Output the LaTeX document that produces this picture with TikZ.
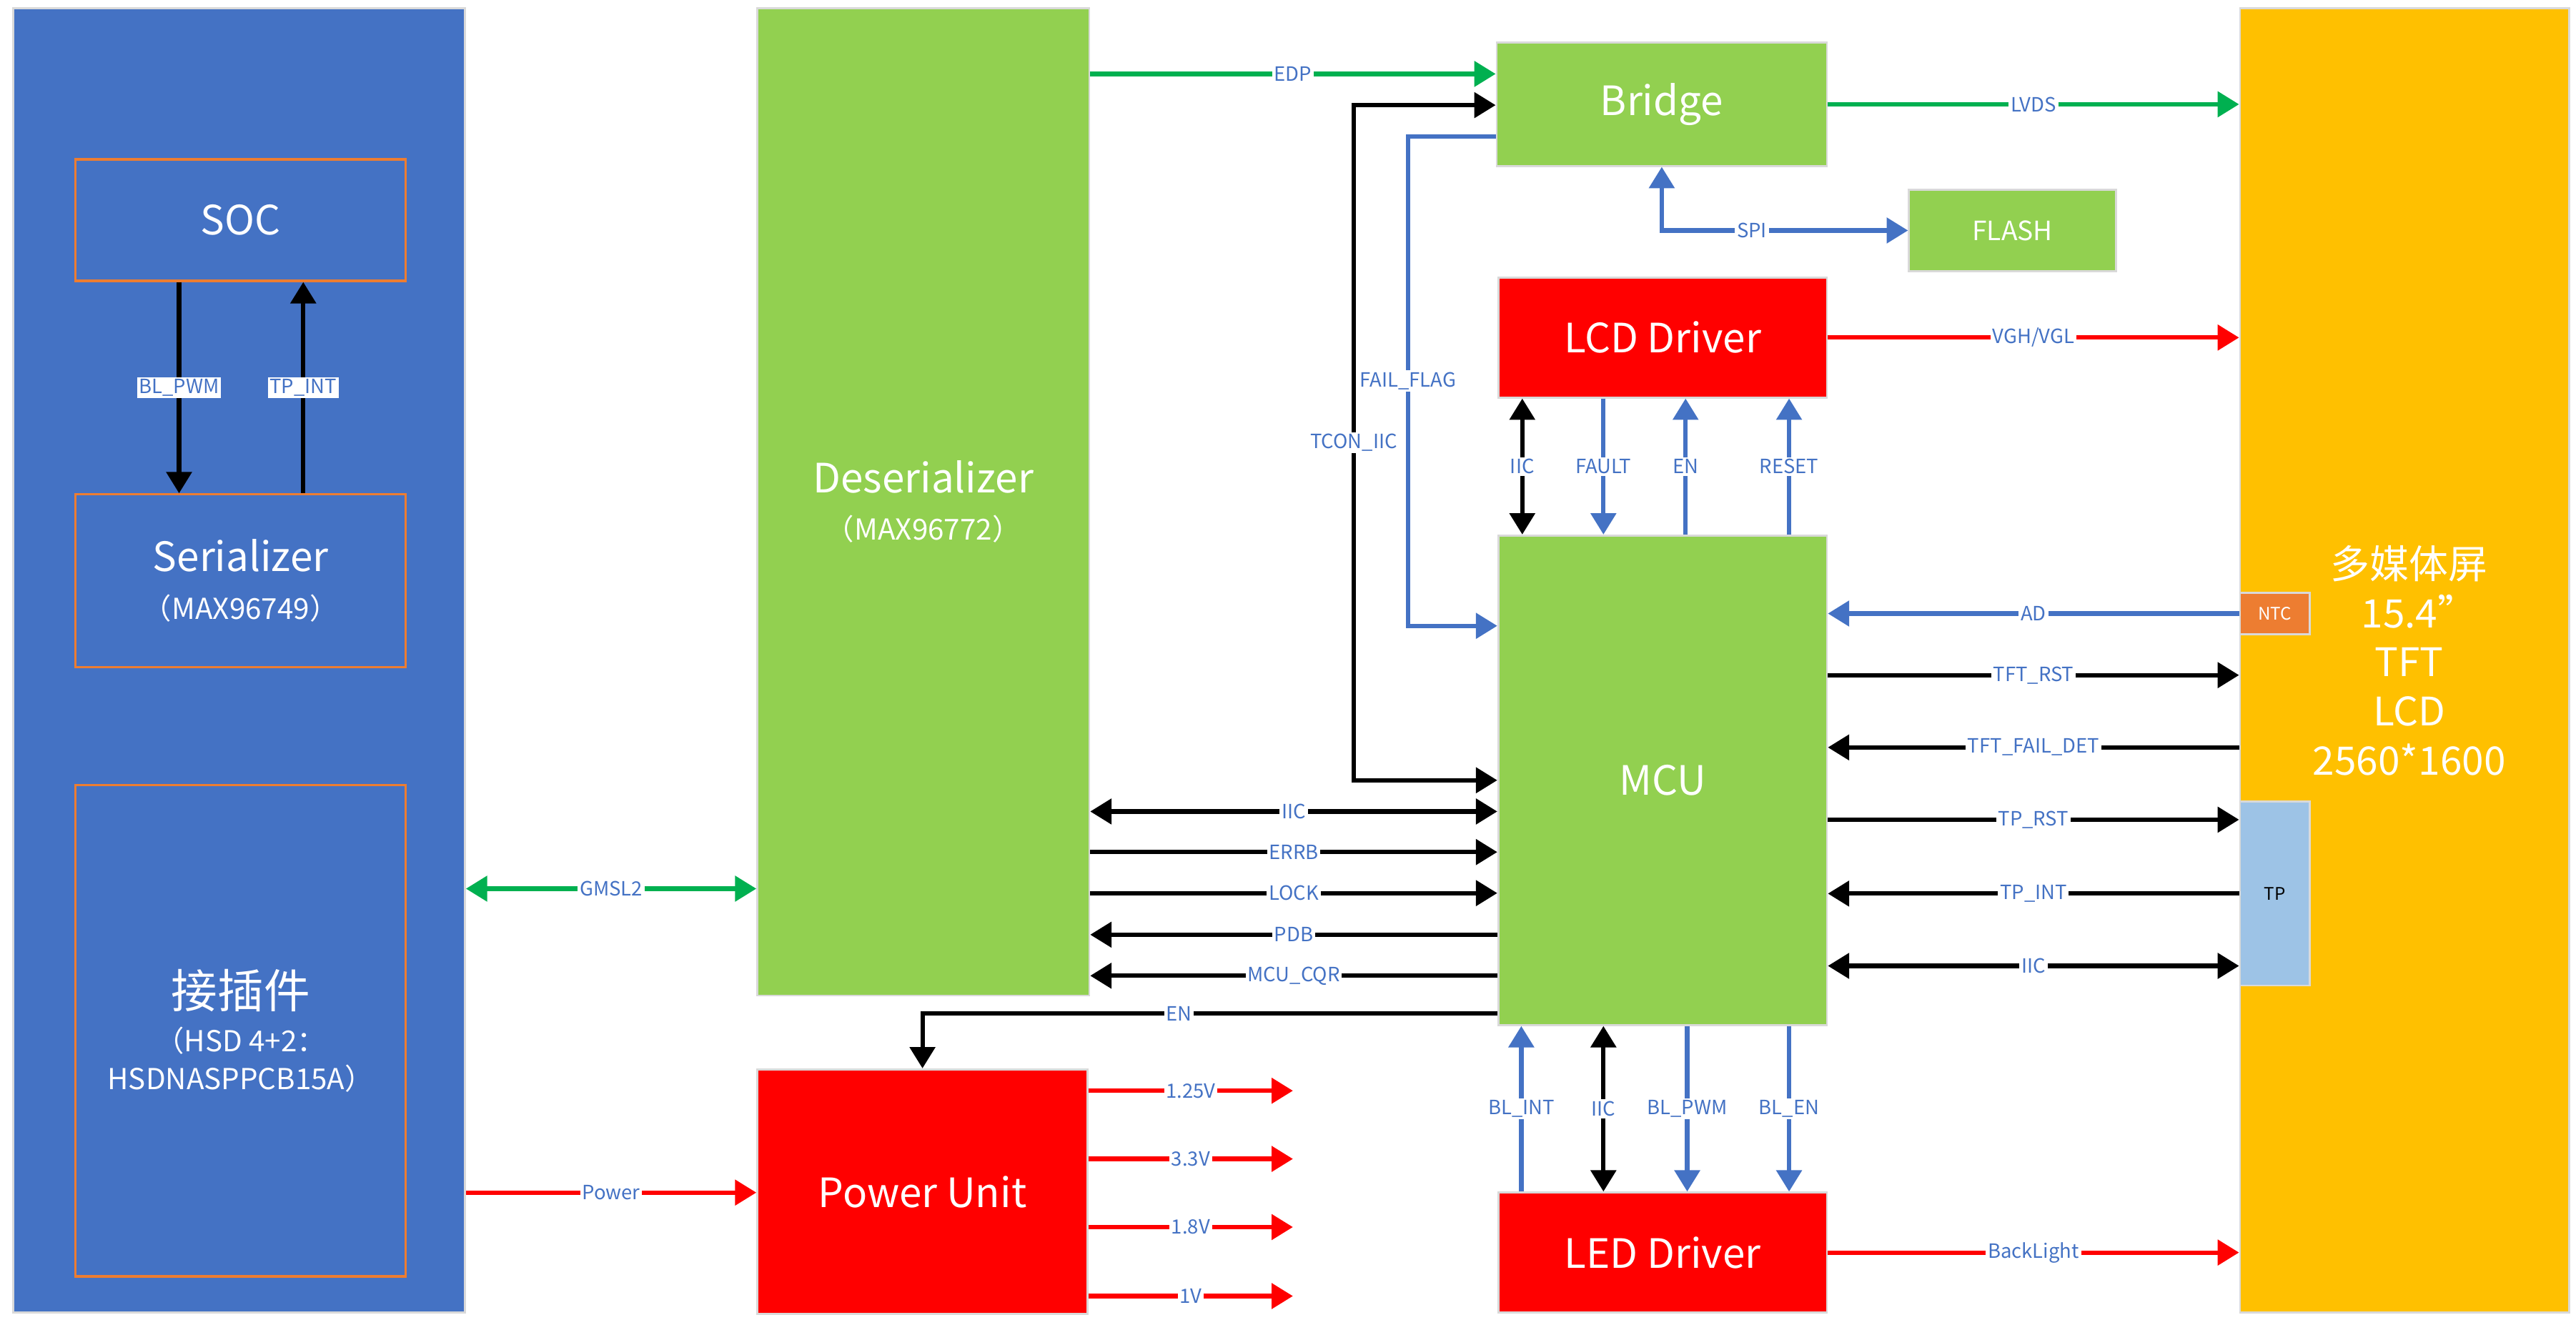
\documentclass[tikz,border=0pt]{standalone}
\usepackage{fontspec}
\setmainfont{Noto Sans CJK SC}
\usetikzlibrary{arrows.meta}

\definecolor{panelblue}{HTML}{4472C4}
\definecolor{boxgreen}{HTML}{92D050}
\definecolor{boxred}{HTML}{FF0000}
\definecolor{lcdorange}{HTML}{FFC000}
\definecolor{ntcorange}{HTML}{ED7D31}
\definecolor{tpblue}{HTML}{9DC3E6}
\definecolor{wiregreen}{HTML}{00B050}
\definecolor{wireblue}{HTML}{4472C4}
\definecolor{textblue}{HTML}{4472C4}

\newcommand{\blockfont}{\fontsize{35}{41}\selectfont}
\newcommand{\subfont}{\fontsize{25}{41}\selectfont}
\newcommand{\wirefont}{\fontsize{17}{17}\selectfont}

\tikzset{
  block/.style={shape=rectangle, draw=black!15, line width=0.6mm, text=white, align=center, inner sep=0pt, font=\blockfont},
  part/.style={shape=rectangle, draw=ntcorange, line width=0.7mm, text=white, align=center, inner sep=0pt, font=\blockfont},
  wire/.style={line width=1.35mm},
  one/.style={-{Triangle[length=6.5mm,width=7.6mm]}},
  two/.style={{Triangle[length=6.5mm,width=7.6mm]}-{Triangle[length=6.5mm,width=7.6mm]}},
  lbl/.style={fill=white, text=textblue, font=\wirefont, inner sep=0.6mm},
}

\begin{document}
\begin{tikzpicture}[x=0.5mm, y=-0.5mm]
    \useasboundingbox (0,0) rectangle (1568,806.6);

    % SOC side
    \node[block, fill=panelblue, minimum width=137.5mm, minimum height=397mm] at (145.5,402) (PNL) {};
    \node[part, minimum width=100.5mm, minimum height=37mm] at (146.5,134) (SOC) {SOC};
    \node[part, minimum width=100.5mm, minimum height=52.5mm] at (146.5,353.5) (SER) {Serializer\\{\subfont （MAX96749）}};
    \node[part, minimum width=100.5mm, minimum height=149.5mm] at (146.5,627.5) (CON) {{\fontsize{40}{41}\selectfont 接插件}\\[-3pt]{\subfont （HSD 4+2：}\\[-8pt]{\subfont HSDNASPPCB15A）}};

    % display side
    \node[block, fill=boxgreen, minimum width=101mm, minimum height=300.5mm] at (562,305.5) (DES) {Deserializer\\{\subfont （MAX96772）}};
    \node[block, fill=boxred, minimum width=100.5mm, minimum height=74.5mm] at (561.5,725.5) (PWR) {Power Unit};
    \node[block, fill=boxgreen, minimum width=100.5mm, minimum height=37.5mm] at (1011.5,63.5) (BRG) {Bridge};
    \node[block, fill=boxgreen, minimum width=63mm, minimum height=24.7mm, font=\fontsize{23}{23}\selectfont] at (1225,140.3) (FLS) {FLASH};
    \node[block, fill=boxred, minimum width=100mm, minimum height=36.5mm] at (1012,205.5) (LCD) {LCD Driver};
    \node[block, fill=boxgreen, minimum width=100mm, minimum height=149mm] at (1012,475) (MCU) {MCU};
    \node[block, fill=boxred, minimum width=100mm, minimum height=36.5mm] at (1012,762.5) (LED) {LED Driver};
    \node[block, fill=lcdorange, minimum width=100.25mm, minimum height=397mm] at (1463.75,402) (SCR) {};
    \node[text=white, align=center, inner sep=0pt, font=\fontsize{34}{42.5}\selectfont] at (1466.5,402) (SCRT) {多媒体屏\\\hspace*{6mm}15.4”\\TFT\\LCD\\2560*1600};
    \node[block, fill=ntcorange, minimum width=21.25mm, minimum height=12.5mm, font=\fontsize{15}{15}\selectfont] at (1384.75,373.5) (NTC) {NTC};
    \node[block, fill=tpblue, text=black, minimum width=21.25mm, minimum height=56mm, font=\fontsize{15}{15}\selectfont] at (1384.75,544) (TP) {TP};

    % inside the SOC side
    \path [wire, one] (SOC.south -| 109,0) edge node[lbl] {BL\_PWM} (SER.north -| 109,0);
    \path [wire, one] (SER.north -| 184.6,0) edge node[lbl] {TP\_INT} (SOC.south -| 184.6,0);

    % links to the left blocks
    \path [wire, two, wiregreen] (PNL.east |- 0,541) edge node[lbl] {GMSL2} (DES.west |- 0,541);
    \path [wire, one, boxred] (PNL.east |- 0,726) edge node[lbl] {Power} (PWR.west |- 0,726);
    \path [wire, one, wiregreen] (DES.east |- 0,45) edge node[lbl] {EDP} (BRG.west |- 0,45);
    \foreach \v/\y in {1.25V/664, 3.3V/705.5, 1.8V/747, 1V/789}
        \path [wire, one, boxred] (PWR.east |- 0,\y) edge node[lbl] {\v} (787,\y);

    % deserializer <-> MCU
    \path [wire, two] (DES.east |- 0,494) edge node[lbl] {IIC} (MCU.west |- 0,494);
    \path [wire, one] (DES.east |- 0,518.7) edge node[lbl] {ERRB} (MCU.west |- 0,518.7);
    \path [wire, one] (DES.east |- 0,543.7) edge node[lbl] {LOCK} (MCU.west |- 0,543.7);
    \path [wire, one] (MCU.west |- 0,569) edge node[lbl] {PDB} (DES.east |- 0,569);
    \path [wire, one] (MCU.west |- 0,594) edge node[lbl] {MCU\_CQR} (DES.east |- 0,594);
    \draw [wire, one] (MCU.west |- 0,617) -| node[lbl, pos=0.277] {EN} (PWR.north);

    % bridge
    \draw [wire, two] (MCU.west) -| node[lbl, pos=0.75] {TCON\_IIC} (824,64) -- (BRG.west |- 0,64);
    \draw [wire, one, wireblue] (BRG.west |- 0,83) -| node[lbl, pos=0.75] {FAIL\_FLAG} (857,381) -- (MCU.west |- 0,381);
    \draw [wire, two, wireblue] (BRG.south) |- node[lbl, pos=0.683] {SPI} (FLS.west);
    \path [wire, one, wiregreen] (BRG.east) edge node[lbl] {LVDS} (SCR.west |- BRG.east);
    \path [wire, one, boxred] (LCD.east) edge node[lbl] {VGH/VGL} (SCR.west |- LCD.east);

    % LCD driver <-> MCU
    \path [wire, two] (LCD.south -| 926.6,0) edge node[lbl] {IIC} (MCU.north -| 926.6,0);
    \path [wire, one, wireblue] (LCD.south -| 976,0) edge node[lbl] {FAULT} (MCU.north -| 976,0);
    \path [wire, one, wireblue] (MCU.north -| 1026,0) edge node[lbl] {EN} (LCD.south -| 1026,0);
    \path [wire, one, wireblue] (MCU.north -| 1089,0) edge node[lbl] {RESET} (LCD.south -| 1089,0);

    % MCU <-> screen
    \path [wire, one, wireblue] (NTC.west) edge node[lbl] {AD} (MCU.east |- NTC.west);
    \path [wire, one] (MCU.east |- 0,411) edge node[lbl] {TFT\_RST} (SCR.west |- 0,411);
    \path [wire, one] (SCR.west |- 0,455) edge node[lbl] {TFT\_FAIL\_DET} (MCU.east |- 0,455);
    \path [wire, one] (MCU.east |- 0,499) edge node[lbl] {TP\_RST} (TP.west |- 0,499);
    \path [wire, one] (TP.west) edge node[lbl] {TP\_INT} (MCU.east |- TP.west);
    \path [wire, two] (MCU.east |- 0,588) edge node[lbl] {IIC} (TP.west |- 0,588);

    % MCU <-> LED driver
    \path [wire, one, wireblue] (LED.north -| 926,0) edge node[lbl] {BL\_INT} (MCU.south -| 926,0);
    \path [wire, two] (MCU.south -| 976,0) edge node[lbl] {IIC} (LED.north -| 976,0);
    \path [wire, one, wireblue] (MCU.south -| 1027,0) edge node[lbl] {BL\_PWM} (LED.north -| 1027,0);
    \path [wire, one, wireblue] (MCU.south -| 1089,0) edge node[lbl] {BL\_EN} (LED.north -| 1089,0);
    \path [wire, one, boxred] (LED.east) edge node[lbl] {BackLight} (SCR.west |- LED.east);
\end{tikzpicture}
\end{document}
